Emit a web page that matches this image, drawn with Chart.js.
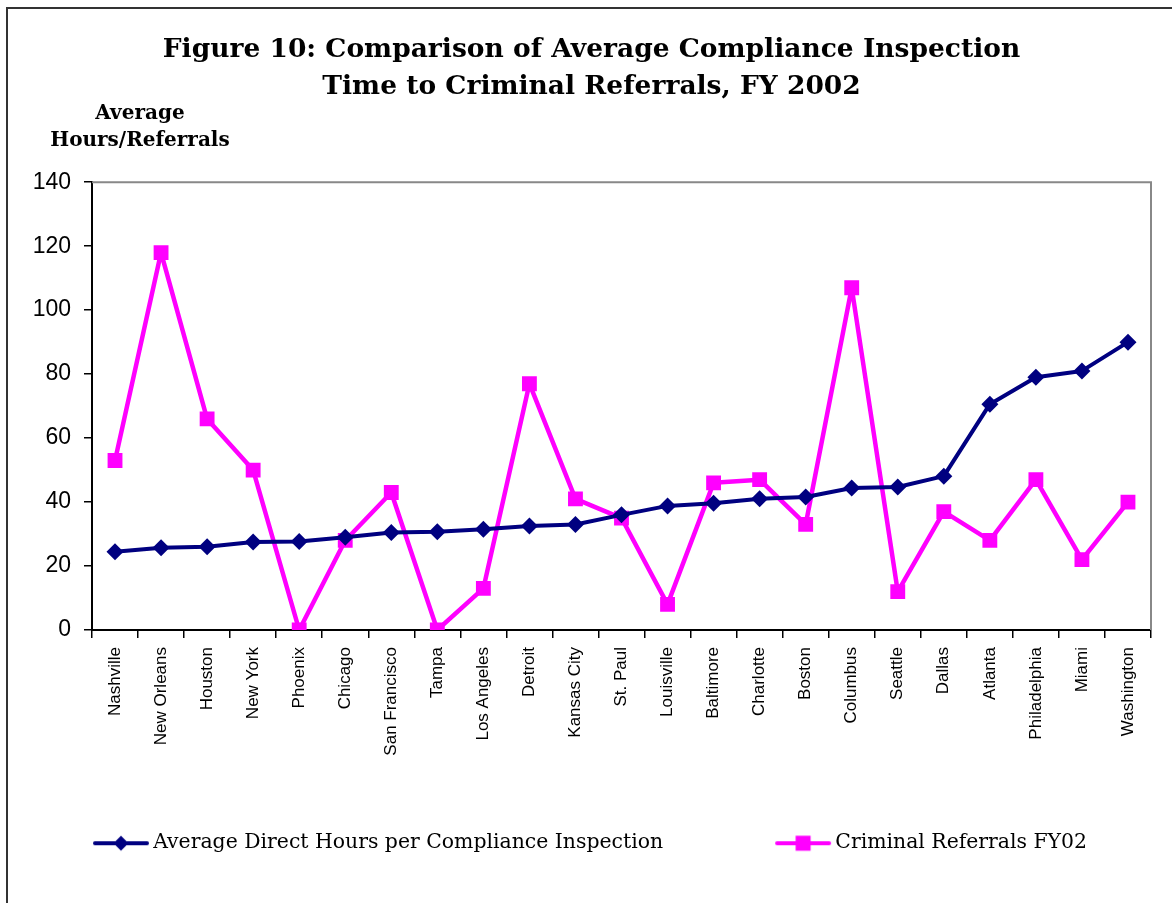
<!DOCTYPE html>
<html>
<head>
<meta charset="utf-8">
<script src="https://cdn.jsdelivr.net/npm/chart.js@4.4.1/dist/chart.umd.min.js"></script>
<style>
  html, body { margin: 0; padding: 0; background: #fff; }
  #wrap { width: 1172px; height: 903px; position: relative; }
</style>
</head>
<body>
<div id="wrap"><canvas id="c" width="1172" height="903"></canvas></div>
<script>
const categories = ["Nashville","New Orleans","Houston","New York","Phoenix","Chicago","San Francisco","Tampa","Los Angeles","Detroit","Kansas City","St. Paul","Louisville","Baltimore","Charlotte","Boston","Columbus","Seattle","Dallas","Atlanta","Philadelphia","Miami","Washington"];
const avgHours = [24.5,25.7,26,27.5,27.7,29,30.5,30.7,31.5,32.5,33,36,38.8,39.6,41,41.6,44.4,44.7,48.1,70.6,79,81,90];
const referrals = [53,118,66,50,0,28,43,0,13,77,41,35,8,46,47,33,107,12,37,28,47,22,40];
const yTicks = [0,20,40,60,80,100,120,140];
const titleLines = ["Figure 10: Comparison of Average Compliance Inspection", "Time to Criminal Referrals, FY 2002"];
const yTitleLines = ["Average", "Hours/Referrals"];
const seriesNames = ["Average Direct Hours per Compliance Inspection", "Criminal Referrals FY02"];

const NAVY = '#000080', PINK = '#FF00FF';
const LEG_BOX = 102;

function legendIcon(color, shape) {
  const cv = document.createElement('canvas');
  cv.width = LEG_BOX + 14; cv.height = 22;
  const g = cv.getContext('2d');
  const x0 = cv.width - 57, x1 = cv.width - 1, cx = (x0 + x1) / 2, cy = 11;
  g.strokeStyle = color; g.lineWidth = 4; g.lineCap = 'round';
  g.beginPath(); g.moveTo(x0 + 2, cy); g.lineTo(x1 - 2, cy); g.stroke();
  g.fillStyle = color;
  if (shape === 'diamond') {
    g.beginPath(); g.moveTo(cx, cy - 7.5); g.lineTo(cx + 7.5, cy); g.lineTo(cx, cy + 7.5); g.lineTo(cx - 7.5, cy); g.closePath(); g.fill();
  } else {
    g.fillRect(cx - 7.5, cy - 7.5, 15, 15);
  }
  return cv;
}
const icons = [legendIcon(NAVY, 'diamond'), legendIcon(PINK, 'square')];

const decor = {
  id: 'decor',
  beforeDraw(chart) {
    const ctx = chart.ctx;
    ctx.save();
    ctx.fillStyle = '#fff';
    ctx.fillRect(0, 0, chart.width, chart.height);
    ctx.strokeStyle = '#333';
    ctx.lineWidth = 2;
    ctx.beginPath();
    ctx.moveTo(7, chart.height + 5); ctx.lineTo(7, 8); ctx.lineTo(chart.width + 5, 8);
    ctx.stroke();
    ctx.restore();
  },
  afterDraw(chart) {
    const ctx = chart.ctx, a = chart.chartArea;
    ctx.save();
    ctx.strokeStyle = '#888';
    ctx.lineWidth = 2;
    ctx.beginPath();
    ctx.moveTo(a.left, a.top); ctx.lineTo(a.right, a.top); ctx.lineTo(a.right, a.bottom);
    ctx.stroke();
    ctx.fillStyle = '#000';
    ctx.font = 'bold 20px "DejaVu Serif", serif';
    ctx.textAlign = 'center';
    ctx.textBaseline = 'middle';
    ctx.fillText(yTitleLines[0], 140, 114);
    ctx.fillText(yTitleLines[1], 140, 141);
    ctx.restore();
  }
};

new Chart(document.getElementById('c'), {
  type: 'line',
  data: {
    labels: categories,
    datasets: [
      { label: seriesNames[0], data: avgHours, borderColor: NAVY, backgroundColor: NAVY, borderWidth: 4,
        borderJoinStyle: 'round', borderCapStyle: 'round',
        pointStyle: 'rectRot', pointRadius: 8.5, pointHoverRadius: 8.5, pointBorderWidth: 0, tension: 0 },
      { label: seriesNames[1], data: referrals, borderColor: PINK, backgroundColor: PINK, borderWidth: 4.5,
        borderJoinStyle: 'round', borderCapStyle: 'round',
        pointStyle: 'rect', pointRadius: 10.5, pointHoverRadius: 10.5, pointBorderWidth: 0, tension: 0 }
    ]
  },
  options: {
    responsive: false,
    animation: false,
    layout: { padding: { left: -19, right: -30, top: 0, bottom: 39.6 } },
    plugins: {
      title: {
        display: true,
        text: titleLines,
        color: '#000',
        font: { family: '"DejaVu Serif", serif', size: 26.5, weight: 'bold', lineHeight: 1.4 },
        padding: { top: 31.5, bottom: 76.5 }
      },
      legend: {
        position: 'bottom',
        align: 'start',
        labels: {
          color: '#000',
          font: { family: '"DejaVu Serif", serif', size: 20.4 },
          usePointStyle: true,
          pointStyleWidth: LEG_BOX,
          padding: 60,
          generateLabels(chart) {
            const items = Chart.defaults.plugins.legend.labels.generateLabels(chart);
            items.forEach((it, i) => { it.pointStyle = icons[i]; });
            return items;
          }
        }
      },
      tooltip: { enabled: false }
    },
    scales: {
      x: {
        offset: true,
        grid: { display: true, offset: true, drawOnChartArea: false, drawTicks: true, tickLength: 8, color: '#000', lineWidth: 1.5 },
        border: { display: true, color: '#000', width: 2 },
        ticks: {
          color: '#000', maxRotation: 90, minRotation: 90, autoSkip: false, padding: 9,
          font: { family: '"Liberation Sans", Arial, sans-serif', size: 17 }
        },
        afterFit(s) { s.height = 143; }
      },
      y: {
        min: 0, max: 140,
        afterBuildTicks(s) { s.ticks = yTicks.map(v => ({ value: v })); },
        grid: { display: true, drawOnChartArea: false, drawTicks: true, tickLength: 8, color: '#000', lineWidth: 1.5 },
        border: { display: true, color: '#000', width: 2 },
        ticks: {
          color: '#000', padding: 13,
          font: { family: '"Liberation Sans", Arial, sans-serif', size: 23 }
        },
        afterFit(s) { s.width = 111; }
      },
      spacer: {
        type: 'linear', position: 'right', display: true,
        grid: { display: false, drawTicks: false }, border: { display: false },
        ticks: { display: false },
        afterFit(s) { s.width = 51; }
      }
    }
  },
  plugins: [decor]
});
</script>
</body>
</html>
